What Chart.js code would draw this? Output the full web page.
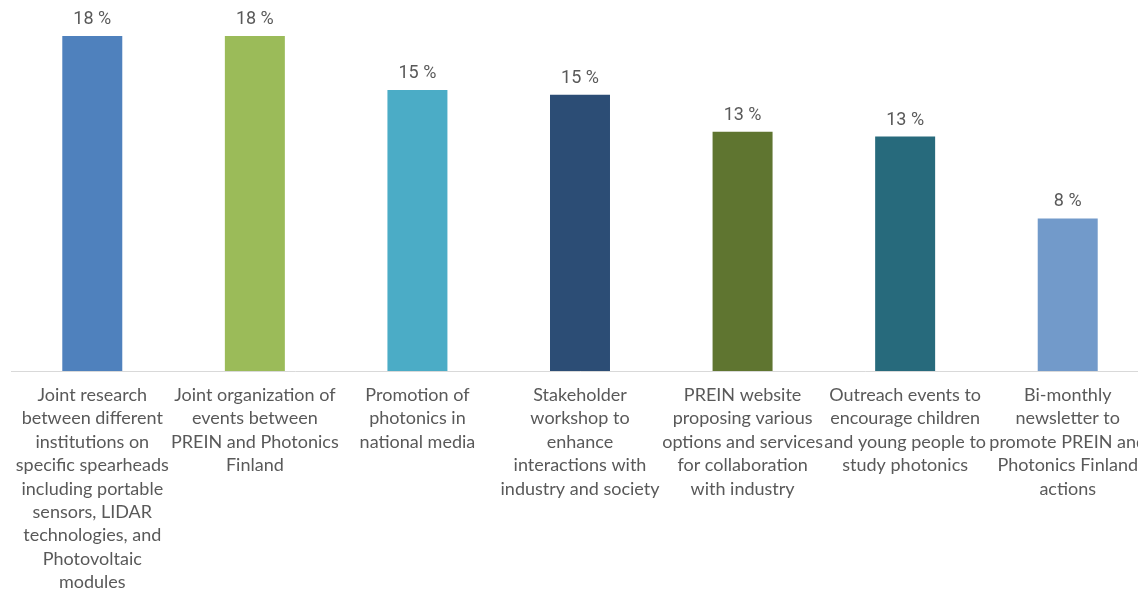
<!DOCTYPE html>
<html>
<head>
<meta charset="utf-8">
<script src="https://cdn.jsdelivr.net/npm/chart.js@4"></script>
<style>
  html, body { margin: 0; padding: 0; background: #fff; overflow: hidden; }
  #wrap { width: 1149px; height: 594px; position: relative; }
</style>
</head>
<body>
<div id="wrap"><canvas id="chart"></canvas></div>
<script>
const categories = [
    ["Joint research", "between different", "institutions on", "specific spearheads", "including portable", "sensors, LIDAR", "technologies, and", "Photovoltaic", "modules"],
    ["Joint organization of", "events between", "PREIN and Photonics", "Finland"],
    ["Promotion of", "photonics in", "national media"],
    ["Stakeholder", "workshop to", "enhance", "interactions with", "industry and society"],
    ["PREIN website", "proposing various", "options and services", "for collaboration", "with industry"],
    ["Outreach events to", "encourage children", "and young people to", "study photonics"],
    ["Bi-monthly", "newsletter to", "promote PREIN and", "Photonics Finland", "actions"]
];
const shares = [18.0, 18.0, 15.1, 14.85, 12.85, 12.6, 8.2];
const barColors = ["#4F81BD", "#9BBB59", "#4BACC6", "#2C4D75", "#5F7530", "#276A7C", "#729ACA"];

// labels above bars
const valueLabels = {
    id: "valueLabels",
    afterDatasetsDraw(chart) {
        const ctx = chart.ctx;
        const meta = chart.getDatasetMeta(0);
        ctx.save();
        ctx.font = "18px Roboto";
        ctx.fillStyle = "#595959";
        ctx.textAlign = "center";
        ctx.textBaseline = "alphabetic";
        meta.data.forEach((bar, i) => {
            ctx.fillText(Math.round(shares[i]) + " %", bar.x, bar.y - 12);
        });
        ctx.restore();
    }
};

new Chart(document.getElementById("chart"), {
    type: "bar",
    data: {
        labels: categories,
        datasets: [{
            data: shares,
            backgroundColor: barColors,
            categoryPercentage: 1,
            barPercentage: 0.369
        }]
    },
    options: {
        responsive: true,
        maintainAspectRatio: false,
        animation: false,
        layout: { padding: { left: 11, right: 0, top: 17.4, bottom: 0 } },
        plugins: {
            legend: { display: false },
            tooltip: { enabled: false }
        },
        scales: {
            x: {
                grid: { display: false, drawTicks: false },
                border: { display: true, color: "#d9d9d9", width: 1 },
                ticks: {
                    autoSkip: false,
                    maxRotation: 0,
                    minRotation: 0,
                    padding: 12,
                    color: "#595959",
                    font: { family: "Lato", size: 18, lineHeight: 1.305 }
                },
                afterFit(scale) {
                    scale.height = 223;
                    scale.paddingLeft = 0;
                    scale.paddingRight = 0;
                }
            },
            y: {
                display: false,
                min: 0,
                max: 19
            }
        }
    },
    plugins: [valueLabels]
});
</script>
</body>
</html>
